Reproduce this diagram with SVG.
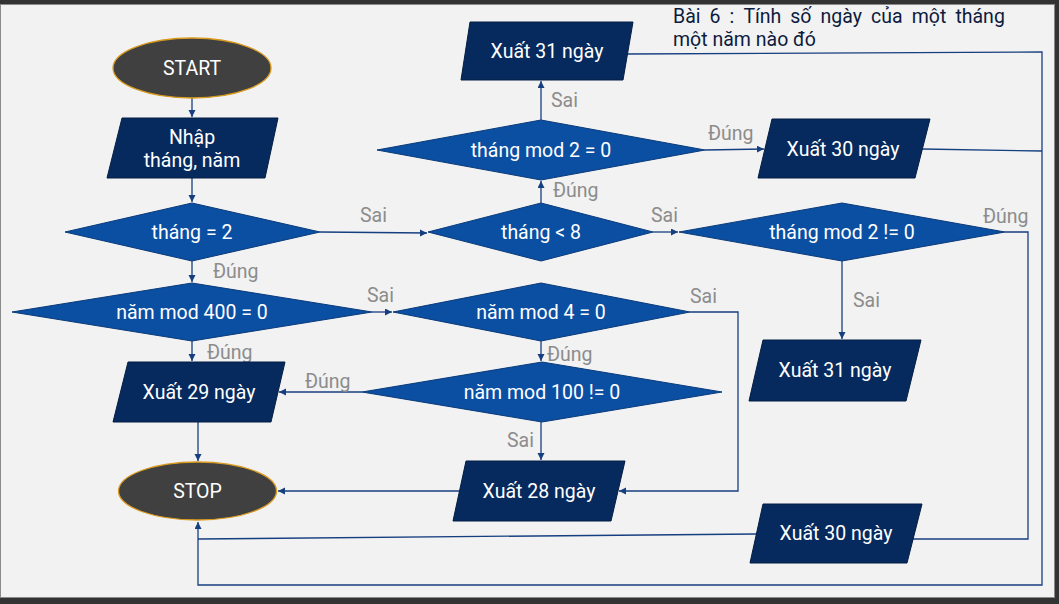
<svg xmlns="http://www.w3.org/2000/svg" width="1059" height="604" viewBox="0 0 1059 604">
<style>
.term{fill:#404040;stroke:#d99a1e;stroke-width:1.3}
.io{fill:#062a5e;stroke:#041d42;stroke-width:1}
.dec{fill:#0b4fa3;stroke:#0a3a7a;stroke-width:1}
.t{font-family:Roboto,"Liberation Sans",sans-serif;font-size:19.5px;fill:#ffffff;text-anchor:middle;dominant-baseline:central}
.lbl{font-family:Roboto,"Liberation Sans",sans-serif;font-size:19.5px;fill:#8c8c8c}
.title{font-family:Roboto,"Liberation Sans",sans-serif;font-size:19.5px;fill:#0d1b3e}
.c{fill:none;stroke:#163f80;stroke-width:1.3}
</style>
<defs>
<marker id="ah" markerUnits="userSpaceOnUse" markerWidth="8" markerHeight="8" refX="7" refY="3.5" orient="auto">
<path d="M0,0 L7,3.5 L0,7 z" fill="#163f80"/>
</marker>
</defs>
<rect x="0" y="0" width="1059" height="604" fill="#333333"/>
<rect x="0.5" y="4.5" width="1054" height="593" fill="#f2f2f2" stroke="#8a8a8a" stroke-width="1"/>

<g id="title">
<text class="title" y="23"><tspan x="673">Bài</tspan><tspan x="709.6">6</tspan><tspan x="729.6">:</tspan><tspan x="743.4">Tính</tspan><tspan x="790.2">số</tspan><tspan x="820.5">ngày</tspan><tspan x="871.1">của</tspan><tspan x="911.7">một</tspan><tspan x="955.4">tháng</tspan></text>
<text class="title" x="673" y="46">một năm nào đó</text>
</g>

<g id="connectors">
<path class="c" d="M192,98 V117" marker-end="url(#ah)"/>
<path class="c" d="M192,178 V202" marker-end="url(#ah)"/>
<path class="c" d="M192,261 V282" marker-end="url(#ah)"/>
<path class="c" d="M320,232 L427,233" marker-end="url(#ah)"/>
<path class="c" d="M192,341 V361" marker-end="url(#ah)"/>
<path class="c" d="M372,312 H392" marker-end="url(#ah)"/>
<path class="c" d="M198,422 V461" marker-end="url(#ah)"/>
<path class="c" d="M541,203 V181" marker-end="url(#ah)"/>
<path class="c" d="M653,232 H678" marker-end="url(#ah)"/>
<path class="c" d="M541,120 V81" marker-end="url(#ah)"/>
<path class="c" d="M705,150 L764,149" marker-end="url(#ah)"/>
<path class="c" d="M842,261 V339" marker-end="url(#ah)"/>
<path class="c" d="M1005,232 H1028 V539 H913"/>
<path class="c" d="M757,534 L198,539"/>
<path class="c" d="M625,54 L1042,52 V585 H198 V522" marker-end="url(#ah)"/>
<path class="c" d="M922,149 L1042,151"/>
<path class="c" d="M541,341 V361" marker-end="url(#ah)"/>
<path class="c" d="M690,312 H738 V491 H619" marker-end="url(#ah)"/>
<path class="c" d="M362,392 H279" marker-end="url(#ah)"/>
<path class="c" d="M541,422 V460" marker-end="url(#ah)"/>
<path class="c" d="M459,491 H278" marker-end="url(#ah)"/>
</g>

<g id="labels">
<text class="lbl" x="360" y="222">Sai</text>
<text class="lbl" x="213" y="278">Đúng</text>
<text class="lbl" x="367" y="302">Sai</text>
<text class="lbl" x="207" y="359">Đúng</text>
<text class="lbl" x="305" y="388">Đúng</text>
<text class="lbl" x="547" y="361">Đúng</text>
<text class="lbl" x="690" y="303">Sai</text>
<text class="lbl" x="651" y="222">Sai</text>
<text class="lbl" x="553" y="197">Đúng</text>
<text class="lbl" x="551" y="107">Sai</text>
<text class="lbl" x="708" y="140">Đúng</text>
<text class="lbl" x="983" y="223">Đúng</text>
<text class="lbl" x="853" y="307">Sai</text>
<text class="lbl" x="507" y="447">Sai</text>
</g>

<g id="start">
<ellipse class="term" cx="192" cy="68" rx="79" ry="30"/>
<text class="t" x="192" y="68">START</text>
</g>
<g id="input">
<polygon class="io" points="122,118 278,118 265,178 107,178"/>
<text class="t" x="192" y="137">Nhập</text>
<text class="t" x="192" y="160">tháng, năm</text>
</g>
<g id="d_thang2">
<polygon class="dec" points="192,203 320,232 192,261 65,232"/>
<text class="t" x="192" y="232">tháng = 2</text>
</g>
<g id="d_nam400">
<polygon class="dec" points="192,283 372,312 192,341 12,312"/>
<text class="t" x="192" y="312">năm mod 400 = 0</text>
</g>
<g id="out29">
<polygon class="io" points="128,362 285,362 271,422 113,422"/>
<text class="t" x="199" y="392">Xuất 29 ngày</text>
</g>
<g id="stop">
<ellipse class="term" cx="197.5" cy="491" rx="79" ry="29"/>
<text class="t" x="197.5" y="491">STOP</text>
</g>
<g id="d_thang8">
<polygon class="dec" points="541,203 653,232 541,261 428,232"/>
<text class="t" x="541" y="232">tháng &lt; 8</text>
</g>
<g id="d_mod2eq">
<polygon class="dec" points="541,120 705,150 541,180 377,150"/>
<text class="t" x="541" y="150">tháng mod 2 = 0</text>
</g>
<g id="out31a">
<polygon class="io" points="470,22 633,22 623,80 461,80"/>
<text class="t" x="547" y="51">Xuất 31 ngày</text>
</g>
<g id="out30a">
<polygon class="io" points="772,119 930,119 915,178 758,178"/>
<text class="t" x="843" y="149">Xuất 30 ngày</text>
</g>
<g id="d_mod2ne">
<polygon class="dec" points="842,203 1005,232 842,261 679,232"/>
<text class="t" x="842" y="232">tháng mod 2 != 0</text>
</g>
<g id="out31b">
<polygon class="io" points="763,340 921,340 906,401 749,401"/>
<text class="t" x="835" y="370">Xuất 31 ngày</text>
</g>
<g id="d_nam4">
<polygon class="dec" points="541,283 690,312 541,341 393,312"/>
<text class="t" x="541" y="312">năm mod 4 = 0</text>
</g>
<g id="d_nam100">
<polygon class="dec" points="542,362 722,392 542,422 362,392"/>
<text class="t" x="542" y="392">năm mod 100 != 0</text>
</g>
<g id="out28">
<polygon class="io" points="466,461 625,461 611,521 453,521"/>
<text class="t" x="539" y="491">Xuất 28 ngày</text>
</g>
<g id="out30b">
<polygon class="io" points="763,504 922,504 907,563 750,563"/>
<text class="t" x="836" y="533">Xuất 30 ngày</text>
</g>
</svg>
